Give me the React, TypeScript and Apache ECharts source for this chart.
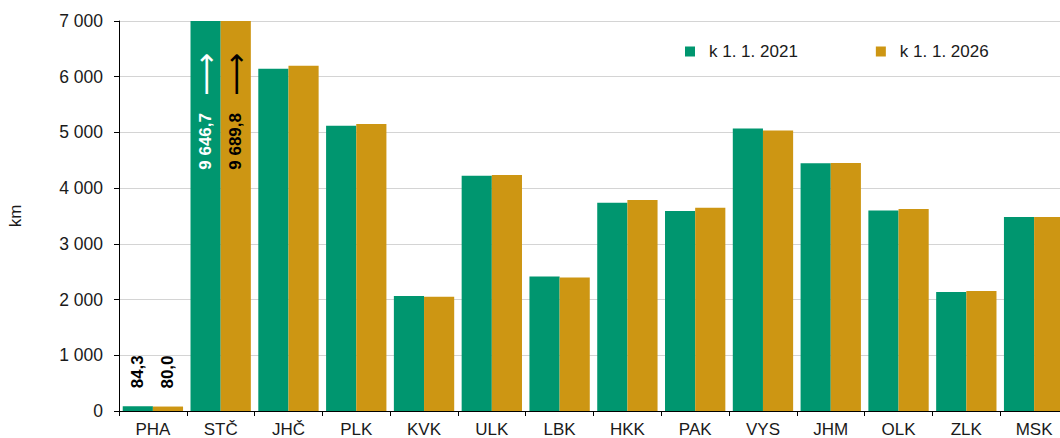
import React, { useEffect, useRef } from "react";
import * as echarts from "echarts";

const categories = ["PHA", "STČ", "JHČ", "PLK", "KVK", "ULK", "LBK", "HKK", "PAK", "VYS", "JHM", "OLK", "ZLK", "MSK"];
const values2021 = [84.3, 9646.7, 6142, 5120, 2065, 4222, 2416, 3740, 3590, 5072, 4446, 3598, 2136, 3482];
const values2026 = [80.0, 9689.8, 6196, 5150, 2052, 4235, 2398, 3786, 3648, 5036, 4450, 3624, 2154, 3480];
const seriesNames = ["k 1. 1. 2021", "k 1. 1. 2026"];
const yTicks = [0, 1000, 2000, 3000, 4000, 5000, 6000, 7000];
const labelledAbove = ["PHA"];
const labelledClipped = ["STČ"];

const FONT = "'Liberation Sans', Arial, sans-serif";
const GREEN = "#00966F";
const GOLD = "#CD9613";

function fmtThousands(n: number): string {
  return String(Math.round(n)).replace(/\B(?=(\d{3})+(?!\d))/g, " ");
}
function fmtValue(v: number): string {
  const [i, d] = v.toFixed(1).split(".");
  return fmtThousands(Number(i)) + "," + d;
}

function buildData(vals: number[], textColor: string) {
  return vals.map((v, i) => {
    const cat = categories[i];
    if (labelledAbove.includes(cat)) {
      return {
        value: v,
        label: {
          show: true,
          position: "top",
          rotate: 90,
          align: "left",
          verticalAlign: "middle",
          distance: 18,
          formatter: () => fmtValue(v),
          color: "#000",
          fontWeight: "bold",
          fontSize: 17,
          fontFamily: FONT,
        },
      };
    }
    if (labelledClipped.includes(cat)) {
      return {
        value: v,
        label: {
          show: true,
          position: "insideTop",
          rotate: 90,
          align: "right",
          verticalAlign: "middle",
          distance: 32,
          formatter: () => "{n|" + fmtValue(v) + "}{a|⟶}",
          rich: {
            n: { color: textColor, fontWeight: "bold", fontSize: 17, fontFamily: FONT },
            a: { color: textColor, fontSize: 30, fontFamily: "'DejaVu Sans'", padding: [0, 0, 0, 17] },
          },
        },
      };
    }
    return v;
  });
}

export default function App() {
  const ref = useRef<HTMLDivElement>(null);
  useEffect(() => {
    if (!ref.current) return;
    const chart = echarts.init(ref.current, undefined, { renderer: "svg" });
    chart.setOption({
      animation: false,
      textStyle: { fontFamily: FONT },
      grid: { left: 119, top: 21, width: 949, height: 390, outerBoundsMode: "none", containLabel: false },
      legend: {
        top: 38,
        left: 680,
        itemWidth: 10,
        itemHeight: 10,
        itemGap: 78,
        icon: "rect",
        textStyle: { fontSize: 17, color: "#1a1a1a", fontFamily: FONT, padding: [0, 0, 0, 9] },
        data: seriesNames,
      },
      xAxis: {
        type: "category",
        data: categories,
        axisLine: { lineStyle: { color: "#000", width: 1 } },
        axisTick: { show: true, length: 5, lineStyle: { color: "#000" } },
        axisLabel: { color: "#1a1a1a", fontSize: 17, margin: 12, lineHeight: 12, fontFamily: FONT },
      },
      yAxis: {
        type: "value",
        min: 0,
        max: 7000,
        interval: 1000,
        name: "km",
        nameLocation: "middle",
        nameGap: 95,
        nameRotate: 90,
        nameTextStyle: { fontSize: 17, color: "#1a1a1a", fontFamily: FONT },
        axisLine: { show: true, lineStyle: { color: "#000", width: 1 } },
        axisTick: { show: true, length: 5, lineStyle: { color: "#000" } },
        axisLabel: {
          color: "#1a1a1a",
          fontSize: 17.5,
          margin: 16,
          fontFamily: FONT,
          formatter: (v: number) => (yTicks.includes(v) ? fmtThousands(v) : ""),
        },
        splitLine: { lineStyle: { color: "#d4d4d4", width: 1 } },
      },
      series: [
        {
          name: seriesNames[0],
          type: "bar",
          barGap: "0%",
          barCategoryGap: "11%",
          itemStyle: { color: GREEN },
          data: buildData(values2021, "#fff"),
        },
        {
          name: seriesNames[1],
          type: "bar",
          barGap: "0%",
          barCategoryGap: "11%",
          itemStyle: { color: GOLD },
          data: buildData(values2026, "#000"),
        },
      ],
    });
    return () => chart.dispose();
  }, []);
  return (
    <div
      ref={ref}
      style={{ position: "absolute", left: 0, top: 0, width: 1060, height: 438 }}
    />
  );
}
